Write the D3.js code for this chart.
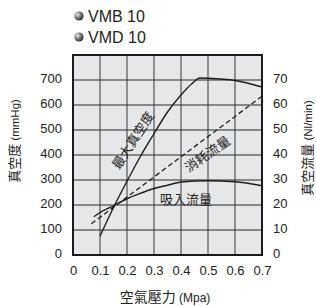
<!DOCTYPE html>
<html>
<head>
<meta charset="utf-8">
<script src="https://cdn.jsdelivr.net/npm/d3@7"></script>
<style>
  body { margin: 0; background: #fff; }
  text { font-family: "Liberation Sans", Arial, sans-serif; fill: #222; }
  .cjk { font-family: "Noto Sans CJK TC", "Noto Sans CJK SC", sans-serif; }
</style>
</head>
<body>
<script>
// data
const legendItems = ['VMB 10', 'VMD 10'];
const xTicks = [0, 0.1, 0.2, 0.3, 0.4, 0.5, 0.6, 0.7];
const leftTicks = [0, 100, 200, 300, 400, 500, 600, 700];
const rightTicks = [0, 10, 20, 30, 40, 50, 60, 70];

// 最大真空度 (mmHg, left axis)
const maxVacuum = [
  [0.1, 75], [0.15, 190], [0.2, 295], [0.25, 395], [0.3, 485],
  [0.35, 572], [0.4, 640], [0.44, 685], [0.47, 708], [0.5, 707],
  [0.6, 698], [0.7, 672]
];
// 吸入流量 (Nl/min, right axis)
const suctionFlow = [
  [0.077, 15.3], [0.1, 17], [0.156, 20], [0.2, 22.5], [0.25, 24.7],
  [0.3, 26.6], [0.35, 27.9], [0.4, 29.2], [0.5, 29.7], [0.6, 29.3],
  [0.7, 27.7]
];
// 消耗流量 (Nl/min, right axis)
const consumption = [[0.068, 12.5], [0.7, 63.5]];

const W = 316, H = 306;
const m = { left: 73, right: 262, top: 55, bottom: 255 };

const svg = d3.select('body').append('svg')
  .attr('width', W)
  .attr('height', H);

const x = d3.scaleLinear().domain([0, 0.7]).range([m.left, m.right]);
const yL = d3.scaleLinear().domain([0, 800]).range([m.bottom, m.top]);
const yR = d3.scaleLinear().domain([0, 80]).range([m.bottom, m.top]);

// legend spheres
const defs = svg.append('defs');
const grad = defs.append('radialGradient')
  .attr('id', 'ball').attr('cx', '35%').attr('cy', '35%').attr('r', '65%');
grad.append('stop').attr('offset', '0%').attr('stop-color', '#eee');
grad.append('stop').attr('offset', '55%').attr('stop-color', '#777');
grad.append('stop').attr('offset', '100%').attr('stop-color', '#333');

const leg = svg.append('g');
legendItems.forEach((d, i) => {
  const yy = 16 + i * 21;
  leg.append('circle').attr('cx', 79).attr('cy', yy).attr('r', 4.6)
    .attr('fill', 'url(#ball)');
  leg.append('text').attr('x', 88).attr('y', yy + 6)
    .attr('font-size', 16).text(d);
});

// plot background
svg.append('rect')
  .attr('x', m.left).attr('y', m.top)
  .attr('width', m.right - m.left).attr('height', m.bottom - m.top)
  .attr('fill', '#e6e7e8');

// grid
svg.append('g')
  .selectAll('line')
  .data(xTicks.slice(1, -1))
  .join('line')
  .attr('x1', d => x(d)).attr('x2', d => x(d))
  .attr('y1', m.top).attr('y2', m.bottom)
  .attr('stroke', '#7a7a7a').attr('stroke-width', 1.6);

svg.append('g')
  .selectAll('line')
  .data(leftTicks.slice(1))
  .join('line')
  .attr('x1', m.left).attr('x2', m.right)
  .attr('y1', d => yL(d)).attr('y2', d => yL(d))
  .attr('stroke', '#2a2a2a').attr('stroke-width', 1.1);

// frame
svg.append('rect')
  .attr('x', m.left).attr('y', m.top)
  .attr('width', m.right - m.left).attr('height', m.bottom - m.top)
  .attr('fill', 'none').attr('stroke', '#1a1a1a').attr('stroke-width', 2);

// curves
const lineL = d3.line().x(d => x(d[0])).y(d => yL(d[1])).curve(d3.curveMonotoneX);
const lineR = d3.line().x(d => x(d[0])).y(d => yR(d[1])).curve(d3.curveMonotoneX);

svg.append('path').datum(maxVacuum).attr('d', lineL)
  .attr('fill', 'none').attr('stroke', '#1e1e1e').attr('stroke-width', 1.4);
svg.append('path').datum(suctionFlow).attr('d', lineR)
  .attr('fill', 'none').attr('stroke', '#1e1e1e').attr('stroke-width', 1.4);
svg.append('path').datum(consumption).attr('d', lineR)
  .attr('fill', 'none').attr('stroke', '#1e1e1e').attr('stroke-width', 1.3)
  .attr('stroke-dasharray', '5,3');

// curve labels
svg.append('text').attr('class', 'cjk')
  .attr('transform', 'translate(134,141) rotate(-57)')
  .attr('text-anchor', 'middle').attr('dominant-baseline', 'middle')
  .attr('font-size', 13).attr('fill', '#333').text('最大真空度');
svg.append('text').attr('class', 'cjk')
  .attr('transform', 'translate(208,155) rotate(-35)')
  .attr('text-anchor', 'middle').attr('dominant-baseline', 'middle')
  .attr('font-size', 13).attr('fill', '#333').text('消耗流量');
svg.append('text').attr('class', 'cjk')
  .attr('x', 186).attr('y', 200)
  .attr('text-anchor', 'middle').attr('dominant-baseline', 'middle')
  .attr('font-size', 13).attr('fill', '#333').text('吸入流量');

// axes (labels only, grid drawn above)
const axL = svg.append('g').attr('transform', `translate(${m.left - 11},0)`)
  .call(d3.axisLeft(yL).tickValues(leftTicks).tickSize(0).tickPadding(0));
const axR = svg.append('g').attr('transform', `translate(${m.right + 11},0)`)
  .call(d3.axisRight(yR).tickValues(rightTicks).tickSize(0).tickPadding(0));
const axB = svg.append('g').attr('transform', `translate(0,${m.bottom + 11})`)
  .call(d3.axisBottom(x).tickValues(xTicks).tickSize(0).tickPadding(0)
    .tickFormat(d => d === 0 ? '0' : d3.format('.1f')(d)));

[axL, axR, axB].forEach(a => {
  a.select('.domain').remove();
  a.selectAll('text')
    .attr('font-size', 13)
    .attr('font-family', '"Liberation Sans", Arial, sans-serif')
    .attr('fill', '#222');
});
axL.selectAll('text').attr('dy', '0.2em');
axR.selectAll('text').attr('dy', '0.2em');
axB.selectAll('text').attr('dy', '0.71em');

// axis titles
const tL = svg.append('text')
  .attr('transform', 'translate(19,141) rotate(-90)')
  .attr('text-anchor', 'middle');
tL.append('tspan').attr('class', 'cjk').attr('font-size', 13).text('真空度');
tL.append('tspan').attr('font-size', 11.5).text(' (mmHg)');

const tR = svg.append('text')
  .attr('transform', 'translate(312,148) rotate(-90)')
  .attr('text-anchor', 'middle');
tR.append('tspan').attr('class', 'cjk').attr('font-size', 13).text('真空流量');
tR.append('tspan').attr('font-size', 11.5).text(' (Nl/min)');

const tB = svg.append('text')
  .attr('x', 165).attr('y', 302)
  .attr('text-anchor', 'middle');
tB.append('tspan').attr('class', 'cjk').attr('font-size', 14).text('空氣壓力');
tB.append('tspan').attr('font-size', 12).text(' (Mpa)');
</script>
</body>
</html>
